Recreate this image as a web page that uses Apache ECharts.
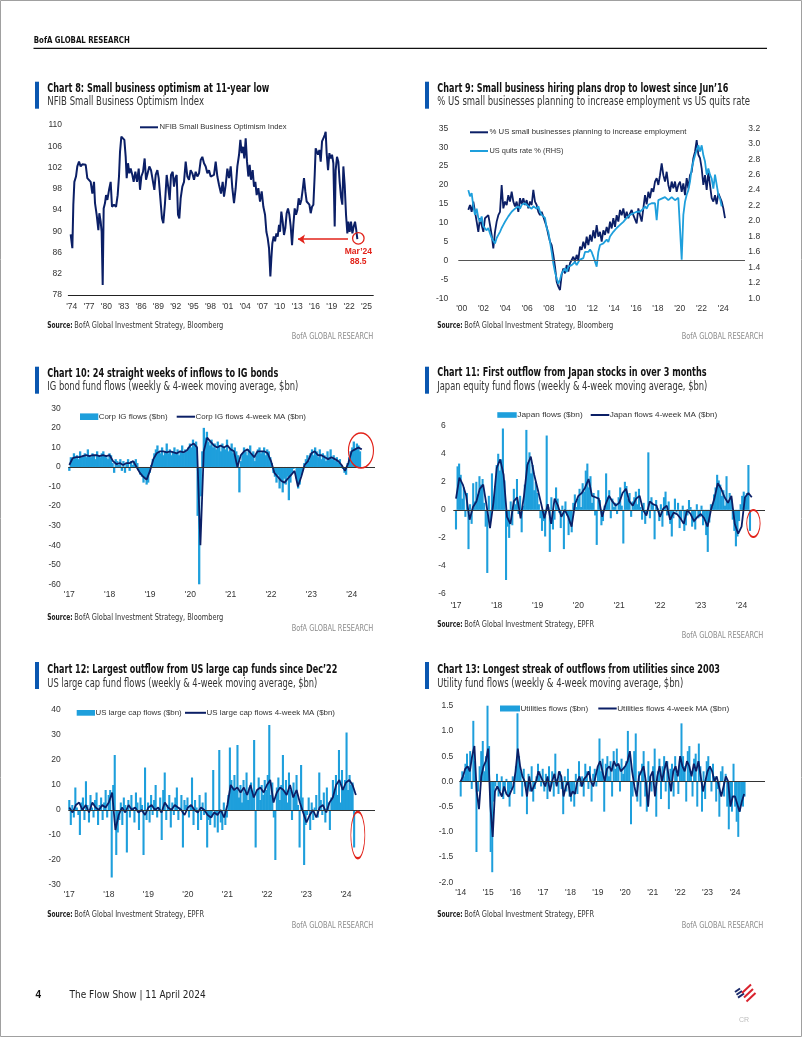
<!DOCTYPE html>
<html><head><meta charset="utf-8">
<script src="https://cdn.jsdelivr.net/npm/echarts@6/dist/echarts.min.js"></script>
<style>html,body{margin:0;padding:0;background:#fff}#c{width:802px;height:1037px}</style>
</head><body><div id="c"></div><script>
// ================= DATA =================
// Chart 8: NFIB Small Business Optimism Index (date in years, value)
const nfibDates = [1973.82,1974.11,1974.28,1974.46,1974.74,1974.97,1975.26,1975.55,1975.84,1976.13,1976.42,1976.70,1976.99,1977.28,1977.57,1977.86,1978.03,1978.32,1978.61,1978.78,1979.01,1979.18,1979.36,1979.53,1979.76,1979.94,1980.17,1980.46,1980.74,1980.97,1981.32,1981.67,1981.95,1982.18,1982.36,1982.59,1982.82,1983.11,1983.34,1983.51,1983.74,1983.97,1984.20,1984.49,1984.72,1985.01,1985.30,1985.59,1985.82,1986.05,1986.34,1986.62,1986.86,1987.14,1987.43,1987.72,1988.01,1988.30,1988.53,1988.82,1989.05,1989.39,1989.62,1989.85,1990.14,1990.43,1990.72,1990.95,1991.18,1991.47,1991.70,1991.93,1992.16,1992.39,1992.62,1992.85,1993.14,1993.43,1993.72,1994.01,1994.29,1994.58,1994.87,1995.16,1995.45,1995.74,1996.03,1996.32,1996.60,1996.89,1997.18,1997.47,1997.76,1998.04,1998.33,1998.62,1998.91,1999.20,1999.49,
1999.83,2000.12,2000.35,2000.64,2000.93,2001.22,2001.51,2001.79,2002.08,2002.37,2002.66,2002.95,2003.18,2003.41,2003.64,2003.87,2004.10,2004.33,2004.56,2004.79,2005.02,2005.31,2005.54,2005.77,2006.00,2006.29,2006.58,2006.87,2007.16,2007.45,2007.68,2007.91,2008.14,2008.37,2008.54,2008.71,2008.95,2009.18,2009.41,2009.64,2009.87,2010.04,2010.27,2010.50,2010.73,2010.96,2011.19,2011.42,2011.66,2011.89,2012.12,2012.35,2012.58,2012.81,2013.04,2013.27,2013.50,2013.73,2013.96,2014.19,2014.42,2014.65,2014.88,2015.12,2015.35,2015.58,2015.81,2016.04,2016.21,2016.38,2016.62,2016.85,2017.08,2017.31,2017.54,2017.77,2017.94,2018.11,2018.35,2018.58,2018.81,2019.04,2019.27,2019.50,2019.67,2019.90,2020.13,2020.36,2020.59,2020.82,2021.00,2021.23,2021.46,2021.69,2021.86,2022.09,2022.32,2022.56,2022.79,2023.02,2023.19,2023.42];
const nfibValues = [89.4,86.8,95.0,99.3,100.3,102.2,103.1,102.2,102.6,102.8,102.5,100.0,100.3,99.3,97.1,99.3,95.3,93.1,90.2,93.4,91.8,89.9,79.9,94.3,95.3,96.8,95.9,97.8,99.3,94.6,95.0,94.6,96.8,100.3,105.0,107.8,107.5,107.2,104.0,100.0,102.8,100.9,101.8,100.6,99.3,101.2,99.3,101.8,97.8,100.3,101.2,103.7,99.7,100.9,102.2,101.5,101.8,97.8,100.6,101.5,100.0,99.7,92.4,91.5,95.3,100.6,98.1,95.9,100.6,101.2,98.4,100.0,100.6,93.1,92.4,96.2,98.4,99.3,103.1,100.3,99.7,101.5,100.9,99.7,101.2,100.3,100.9,103.4,104.0,102.8,102.2,100.9,101.5,100.3,100.0,100.6,103.1,100.3,98.7,
97.1,99.3,96.5,98.7,101.8,100.0,102.2,98.1,95.3,98.1,102.2,104.4,107.2,104.7,105.9,103.7,107.5,103.1,100.3,102.5,99.7,101.5,98.4,99.3,96.8,98.1,95.6,97.5,94.6,93.1,89.9,88.7,86.8,81.5,84.9,87.7,89.0,88.1,89.6,89.0,91.2,89.9,93.7,91.8,89.3,90.6,93.4,94.3,93.1,90.9,87.4,91.2,94.3,93.1,94.0,96.2,95.0,95.9,97.8,100.0,97.5,95.6,95.9,95.0,93.4,94.6,95.0,100.6,105.6,105.9,104.4,105.3,103.1,106.9,107.5,108.1,108.7,104.7,101.5,104.7,103.7,104.4,102.8,90.9,101.5,104.0,103.1,99.3,96.5,95.0,102.2,98.7,93.1,89.6,91.8,89.9,91.8,89.6,90.9,91.8,90.6,88.5];
const nfibTicks = [1974,1977,1980,1983,1986,1989,1992,1995,1998,2001,2004,2007,2010,2013,2016,2019,2022,2025];

// Chart 9: samples every ~8 weeks starting 2000.61
const ch9Start = 2000.61, ch9StepYears = 0.1529;
const hiringPlans = [13.4,14.7,12.9,15.6,16.0,10.3,7.6,11.2,9.4,7.6, 11.2,10.7,12.0,9.4,6.8,3.2,7.6,10.3,12.0,12.9, 20.0,13.8,15.6,14.7,17.3,15.6,18.2,15.6,14.3,15.6, 12.9,16.5,14.9,16.5,14.7,16.0,13.8,15.6,14.7,18.7, 15.6,14.7,12.9,12.0,12.9,11.6,12.0,8.9,6.8,5.0, 4.1,1.5,-1.6,-5.6,-6.9,-7.8,-3.8,-2.1,-3.4,-1.2, -2.9,-0.7,-0.3,1.0,-0.3,1.5,0.1,3.7,2.8,5.0, 3.2,6.3,4.1,6.8,5.0,8.0,5.9,9.4,6.3,7.6, 5.0,8.0,6.8,8.9,7.2,10.3,8.5,11.2,8.9,12.0, 10.3,13.4,12.0,13.8,11.2,12.9,11.2,12.5,13.4,12.0, 12.0,9.8,13.8,12.0,10.3,13.8,17.3,14.9,18.2,16.5, 19.1,18.2,20.9,21.8,20.0,22.6,25.7,22.6,20.9,23.5, 20.0,18.2,20.9,19.1,20.9,18.2,20.0,20.9,18.2,20.4, 17.3,21.8,19.1,22.6,23.5,27.1,28.8,31.9,28.0,27.1, 24.4,20.0,22.6,18.7,23.5,20.0,16.5,15.6,17.3,14.9, 17.8,17.3,15.6,13.8,11.2];
const quitsRate = [2.40,2.32,2.36,2.19,2.08,2.16,2.04,1.99,2.06,1.93, 1.95,1.88,1.91,1.84,1.78,1.76,1.71,1.78,1.82,1.86, 1.91,1.95,1.99,1.97,2.06,2.08,2.12,2.10,2.16,2.14, 2.19,2.16,2.21,2.19,2.23,2.21,2.19,2.21,2.16,2.19, 2.21,2.16,2.19,2.12,2.08,2.10,2.04,1.91,1.86,1.73, 1.60,1.45,1.34,1.26,1.19,1.24,1.32,1.30,1.39,1.34, 1.41,1.39,1.43,1.41,1.47,1.43,1.47,1.50,1.50,1.52, 1.60,1.58,1.60,1.63,1.60,1.54,1.56,1.41,1.60,1.69, 1.67,1.71,1.73,1.76,1.73,1.80,1.82,1.86,1.86,1.91, 1.93,1.95,1.97,1.99,2.01,2.04,2.06,2.08,2.06,2.10, 2.08,2.12,2.10,2.12,2.14,2.16,2.19,2.16,2.21,2.19, 2.23,2.21,2.23,2.01,2.27,2.25,2.29,2.27,2.31,2.29, 2.27,2.29,2.31,2.29,2.27,2.29,2.30,2.28,1.50,2.08, 2.25,2.34,2.40,2.51,2.68,2.77,2.85,2.92,2.98,2.90, 2.98,2.85,2.77,2.60,2.68,2.60,2.55,2.42,2.60,2.47, 2.34,2.29,2.19];
const ch9Ticks = [2000,2002,2004,2006,2008,2010,2012,2014,2016,2018,2020,2022,2024];

// Flow charts: bars every 2 weeks from Jan 2017, MA monthly
const flowStart = 2017.0, flowStepDays = 14;
const igFlows = [-2,5,4,7,5,6,4,8,5,6,7,5,9,6,5,7,6,4,8,6,5,7,8,6,5,4,
 7,6,2,-3,4,3,1,4,-2,3,-3,2,4,-2,3,1,3,4,2,-2,-4,-5,-8,-6,-9,-8,
 -3,1,4,7,9,11,8,7,10,6,8,12,7,9,6,8,10,7,9,6,8,11,7,9,8,10,
 12,10,14,11,13,-25,-60,-15,8,20,15,18,13,11,14,10,12,9,13,11,8,12,10,9,14,8,
 9,12,7,10,8,6,-13,3,7,10,8,6,9,11,7,8,3,6,9,10,7,8,10,6,9,8,
 5,2,-3,-5,-8,-4,-11,-7,-13,-6,-9,-5,-17,-8,-3,-1,0,-6,-11,-9,-4,-2,2,4,6,3,
 7,9,6,10,8,5,9,4,7,6,3,8,5,9,4,6,3,5,2,4,1,-1,-3,-4,2,5,
 8,10,13,9,12,11,8];
const igMA = [1,4.5,5,5,5.5,6,5.5,6,6,5.5,6,5.5, 6,3,1.5,2,1,2,2,3,0,-3,-5,-6.5, -2,4,7,8,8,7.5,8,7.5,7,8,7.5,8.5,
 11,12,10,-40,8,15,13,11,10,11,10,11, 9,8,0,6,8,9,7,5,8,8,8,7, 3,-3,-5,-7,-8,-6,-4,-2,-10,-5,1,3, 7,8,6,6,5,4,5,4,3,1,-2,2, 8,9,10,9];
const japanFlows = [-1.4,3.1,3.3,2.5,0.8,1.6,-0.5,1.2,-2.8,0.4,-1.0,1.9,0.6,2.0,1.1,2.4,1.8,2.2,0.5,-1.2,-4.5,1.0,-0.8,2.6,0.9,1.7,
 3.2,4.0,2.8,3.6,5.8,2.1,-5.0,-1.2,-2.0,0.6,-1.1,1.5,0.4,2.2,-0.3,1.0,-1.6,0.3,1.8,5.7,3.4,4.1,2.6,3.2,1.4,2.0,
 1.2,0.4,-0.6,-1.5,-0.8,-1.9,5.3,0.2,-3.0,0.9,-1.4,-0.7,1.6,0.8,-0.2,-1.3,0.3,-2.8,0.6,-0.4,-1.8,-1.0,-1.6,0.5,1.1,0.2,
 0.8,1.5,0.2,1.9,1.3,2.8,3.3,1.6,2.4,0.5,1.2,-0.4,-2.5,1.4,0.7,-1.1,-0.8,0.3,2.6,0.9,1.4,-0.6,0.8,0.2,0.5,-0.3,
 0.9,1.6,0.3,-2.4,2.0,1.7,0.8,1.2,-0.5,0.6,0.9,1.3,0.4,1.5,0.2,-0.7,0.5,-1.0,-0.3,4.1,-0.6,0.9,0.4,-2.1,0.7,0.1,
 -0.8,0.4,-1.2,0.9,1.3,-0.4,0.6,-1.0,-1.9,-0.6,0.8,-0.2,0.5,-1.3,-0.7,0.3,-1.5,-1.1,-0.4,0.7,0.2,-1.2,-0.9,-1.4,0.4,-0.6,
 -0.5,0.3,-1.1,-0.6,-1.8,-3.0,-0.9,0.4,0.2,1.1,1.6,2.5,2.1,1.8,1.0,1.4,0.3,2.4,0.6,1.2,0.8,-0.7,-1.5,-2.6,-1.9,-0.8,
 0.4,1.0,1.3,0.9,1.2,3.2,-1.5];
const japanMA = [0.8,2.3,1.8,1.0,-0.7,0.2,0.6,1.5,1.8,0.3,-1.3,0.5, 3.0,3.6,2.5,-0.5,-1.0,0.6,0.9,-0.6,1.0,3.2,3.8,2.5,
 1.5,0.5,-0.6,0.4,-1.0,0.8,0.3,-0.5,0.0,-0.5,-1.2,0.4, 1.0,1.2,1.6,2.2,1.0,0.9,0.8,-0.5,0.4,1.0,0.6,0.3,
 0.5,1.2,1.5,0.6,0.3,0.8,1.0,0.0,-0.4,0.6,0.4,0.3, -0.5,0.1,0.3,-0.7,-0.2,-0.3,-0.6,-1.0,0.0,-0.3,-0.8,-0.5,
 -0.3,-0.6,-1.2,0.0,0.8,1.9,1.5,0.9,0.5,1.0,-1.0,-1.7, -1.2,0.9,1.2,0.9];
const usLargeCapFlows = [4,-6,2,-3,9,1,-2,-10,3,5,-4,11.5,2,-5,6,1,-3,4,7,-6,2,5,-4,3,8,-3,
 6,8,-27,10,22,-18,-9,-4,3,-6,5,2,-17,4,-3,6,1,-5,7,3,-8,5,2,-18,17,-4,
 3,-5,6,-2,4,10,-3,1,5,-12,8,15,-4,2,6,-7,3,-2,5,9,-4,1,6,-15,4,2,
 5,-3,2,13,-6,4,1,-8,6,-4,3,-2,7,-15,-4,-6,-3,16,-7,-2,-9,24,-5,-8,3,-6,
 -3,6,25,12,9,14,8,26,5,10,3,12,7,15,4,9,11,6,28,-15,8,13,4,10,6,12,
 8,14,34,6,11,-3,-20,9,13,4,10,22,7,12,3,15,8,-4,11,6,14,2,-15,18,5,-22,
 -6,-2,5,-8,3,-4,1,6,-3,15,4,-2,7,-5,9,3,-8,5,12,8,14,6,24,3,16,9,
 12,31,8,14,10,11,-15];
const usLargeCapMA = [1,-1,2,3,0,2,-1,3,1,0,2,1, 3,7,-8,-2,1,-1,2,0,1,-1,0,-2, 1,2,0,1,-1,3,1,0,2,1,0,-2,
 1,2,0,-1,1,0,-2,-3,-1,-2,0,-3, 2,10,8,9,7,9,6,10,5,8,9,7, 10,12,3,7,9,8,6,10,5,8,3,-1,
 -5,-2,0,-3,1,2,-1,3,5,10,12,8, 11,12,10,6];
const flowTicks = [2017,2018,2019,2020,2021,2022,2023,2024];

// Utilities: bars every 3 weeks from Jan 2014, MA monthly
const utilStart = 2014.0, utilStepDays = 21;
const utilFlows = [-0.3,0.2,0.1,0.35,0.55,0.3,0.6,-0.15,1.2,0.4,-1.4,-0.2,0.3,0.6,0.8,0.2,0.5,
 1.5,0.7,-1.4,-1.8,-0.4,-0.1,0.15,-0.3,-0.2,0.1,-0.35,-0.2,0.05,-0.3,-0.5,-0.15,0.1,-0.25,
 0.3,1.35,0.5,0.2,-0.3,0.25,-0.1,-0.65,0.15,-0.2,0.3,-0.4,-0.15,0.1,0.35,0.2,-0.1,
 0.25,-0.2,0.15,-0.35,0.3,-0.1,0.2,-0.3,0.55,0.05,-0.25,0.2,-0.15,-0.65,0.1,-0.2,0.25,-0.3,
 -0.4,-0.2,-0.5,0.15,-0.25,0.4,-0.1,0.1,-0.3,0.35,0.2,-0.15,0.3,-0.4,0.15,0.25,-0.1,
 0.3,0.85,0.2,0.45,-0.6,0.35,0.5,0.1,0.4,-0.3,0.6,0.25,0.65,0.3,-0.2,0.45,0.15,0.3,
 0.4,1.0,0.5,-0.85,-0.3,0.6,0.95,-0.4,0.2,-0.5,0.35,0.6,-0.3,-0.6,0.4,0.1,-0.2,
 0.3,0.65,-0.7,0.2,0.45,-0.35,0.3,0.5,-0.2,0.4,-0.55,0.25,0.35,-0.3,0.5,0.15,-0.25,0.4,
 1.15,0.5,0.3,-0.4,0.6,0.7,0.2,-0.3,0.45,0.55,-0.5,0.75,0.3,-0.6,0.2,-0.35,0.4,
 0.5,0.3,-0.2,0.35,0.1,-0.4,-0.15,-0.7,0.2,0.3,-0.3,0.15,-0.5,-0.95,-0.4,-0.6,0.35,
 -0.5,-0.8,-1.1,-0.6,-0.45,-0.5,-0.3];
const utilMA = [0.0,0.1,0.25,0.3,0.2,0.5,0.7,-0.2,-0.55,0.1,0.3,0.4, 0.65,-0.5,-1.1,-0.2,-0.1,-0.2,-0.3,-0.1,-0.25,-0.3,-0.2,-0.1,
 0.2,0.65,0.3,0.1,0.0,-0.3,0.1,-0.2,-0.1,0.0,0.2,0.1, 0.0,-0.1,0.1,-0.2,0.0,0.15,-0.1,0.2,0.1,-0.3,-0.1,0.0,
 -0.3,-0.2,-0.25,0.0,0.1,-0.1,0.05,0.1,0.2,0.0,-0.1,0.1, 0.3,0.4,0.2,0.0,0.25,0.3,0.2,0.4,0.3,0.35,0.2,0.25,
 0.3,0.4,0.6,0.2,-0.1,-0.3,0.1,0.2,0.3,0.0,-0.5,0.1, 0.2,-0.3,0.1,0.3,0.0,0.2,0.4,0.1,-0.2,0.2,0.3,0.1,
 0.5,0.3,0.2,0.4,0.3,0.1,0.35,0.2,0.4,0.1,-0.2,0.0, 0.2,0.3,0.2,0.0,0.1,-0.1,-0.3,-0.1,0.1,0.0,-0.5,-0.3,
 -0.3,-0.45,-0.6,-0.4,-0.25];
const utilTicks = [2014,2015,2016,2017,2018,2019,2020,2021,2022,2023,2024];

// ================= STYLE / LAYOUT =================
const NAVY = '#0b1f66', LIGHT = '#1e9fdc', RED = '#e2231a', BAR = '#0a57b0';
const NARROW = '"Liberation Sans Narrow","DejaVu Sans Condensed","Liberation Sans",sans-serif';
const SANS = '"Liberation Sans","DejaVu Sans",sans-serif';
const cv = document.createElement('canvas').getContext('2d');
function txt(str, x, y, o) {
  const font = (o.weight || 'normal') + ' ' + o.size + 'px ' + (o.family || NARROW);
  cv.font = font;
  const w = cv.measureText(str).width;
  return {type: 'text', x: x, y: y, scaleX: o.width ? o.width / w : 1, silent: true, z: 10,
    style: {text: str, font: font, fill: o.color || '#222', textAlign: o.align || 'left', verticalAlign: 'middle', textVerticalAlign: 'middle'}};
}
const G = [];
G.push({type: 'rect', shape: {x: 0.5, y: 0.5, width: 801, height: 1036}, style: {fill: 'none', stroke: '#a0a0a0', lineWidth: 1}, silent: true});
G.push(txt('BofA GLOBAL RESEARCH', 33.8, 41, {size: 8.5, weight: 'bold', width: 96, color: '#111'}));
G.push({type: 'line', shape: {x1: 33.5, y1: 48.3, x2: 767, y2: 48.3}, style: {stroke: '#111', lineWidth: 1.3}, silent: true});

const panels = [
  {bx: 35, by: 81.7, tx: 47.3, title: 'Chart 8: Small business optimism at 11-year low', tY: 89, tW: 222,
   sub: 'NFIB Small Business Optimism Index', sY: 102.3, sW: 156.7, src: 'BofA Global Investment Strategy, Bloomberg', srcW: 149, srcY: 325.7, brY: 336.7, brR: 373.3},
  {bx: 425, by: 81.7, tx: 437.3, title: 'Chart 9: Small business hiring plans drop to lowest since Jun\u201916', tY: 89, tW: 291,
   sub: '% US small businesses planning to increase employment vs US quits rate', sY: 102.3, sW: 312.7, src: 'BofA Global Investment Strategy, Bloomberg', srcW: 149, srcY: 325.7, brY: 336.7, brR: 763.3},
  {bx: 35, by: 366.7, tx: 47.3, title: 'Chart 10: 24 straight weeks of inflows to IG bonds', tY: 373.3, tW: 231,
   sub: 'IG bond fund flows (weekly & 4-week moving average, $bn)', sY: 387.3, sW: 251, src: 'BofA Global Investment Strategy, Bloomberg', srcW: 149, srcY: 617.3, brY: 628.3, brR: 373.3},
  {bx: 425, by: 366.7, tx: 437.3, title: 'Chart 11: First outflow from Japan stocks in over 3 months', tY: 372.7, tW: 269.3,
   sub: 'Japan equity fund flows (weekly & 4-week moving average, $bn)', sY: 386.7, sW: 270, src: 'BofA Global Investment Strategy, EPFR', srcW: 129.7, srcY: 624.3, brY: 636, brR: 763.3},
  {bx: 35, by: 662, tx: 47.3, title: 'Chart 12: Largest outflow from US large cap funds since Dec\u201922', tY: 670, tW: 290,
   sub: 'US large cap fund flows (weekly & 4-week moving average, $bn)', sY: 684.3, sW: 270, src: 'BofA Global Investment Strategy, EPFR', srcW: 129.7, srcY: 914.3, brY: 925.7, brR: 373.3},
  {bx: 425, by: 662, tx: 437.3, title: 'Chart 13: Longest streak of outflows from utilities since 2003', tY: 670, tW: 282.7,
   sub: 'Utility fund flows (weekly & 4-week moving average, $bn)', sY: 684.3, sW: 246, src: 'BofA Global Investment Strategy, EPFR', srcW: 129.7, srcY: 914.3, brY: 925.7, brR: 763.3}
];
panels.forEach(p => {
  G.push({type: 'rect', shape: {x: p.bx, y: p.by, width: 4, height: 27}, style: {fill: BAR}, silent: true});
  G.push(txt(p.title, p.tx, p.tY, {size: 13, weight: 'bold', width: p.tW, color: '#111'}));
  G.push(txt(p.sub, p.tx, p.sY, {size: 12, width: p.sW, color: '#333'}));
  G.push(txt('Source:', p.tx, p.srcY, {size: 8.5, weight: 'bold', width: 25.3, color: '#222'}));
  G.push(txt(p.src, p.tx + 27, p.srcY, {size: 8.5, width: p.srcW, color: '#333'}));
  G.push(txt('BofA GLOBAL RESEARCH', p.brR, p.brY, {size: 8.5, width: 81.6, color: '#8a8a8a', align: 'right'}));
});

function legLine(x1, x2, y, color) { G.push({type: 'line', shape: {x1, y1: y, x2, y2: y}, style: {stroke: color, lineWidth: 2}, silent: true}); }
function legBox(x, y, w, h) { G.push({type: 'rect', shape: {x, y, width: w, height: h}, style: {fill: LIGHT}, silent: true}); }
function legTxt(s, x, y, w) { G.push(txt(s, x, y, {size: 7.5, family: SANS, width: w, color: '#333'})); }
legLine(140, 158, 127.3, NAVY); legTxt('NFIB Small Business Optimism Index', 159.5, 127.3, 127);
legLine(470, 488, 132.3, NAVY); legTxt('% US small businesses planning to increase employment', 489.5, 132.3, 197);
legLine(470, 488, 151, LIGHT); legTxt('US quits rate % (RHS)', 489.5, 151, 74);
legBox(80, 413.4, 18.3, 6.6); legTxt('Corp IG flows ($bn)', 98.7, 416.7, 69);
legLine(176.7, 195, 416.7, NAVY); legTxt('Corp IG flows 4-week MA ($bn)', 195.5, 416.7, 110.5);
legBox(497.3, 412.2, 19.4, 5.6); legTxt('Japan flows ($bn)', 517.3, 415, 65.4);
legLine(590.7, 609.3, 415, NAVY); legTxt('Japan flows 4-week MA ($bn)', 609.7, 415, 107.6);
legBox(76.7, 710, 18.3, 5.7); legTxt('US large cap flows ($bn)', 95.5, 712.8, 86.2);
legLine(185, 206, 712.8, NAVY); legTxt('US large cap flows 4-week MA ($bn)', 206.5, 712.8, 128.5);
legBox(500, 705.5, 20, 6); legTxt('Utilities flows ($bn)', 520.5, 708.5, 67.8);
legLine(598.3, 616.7, 708.5, NAVY); legTxt('Utilities flows 4-week MA ($bn)', 617.2, 708.5, 112);

// footer
G.push(txt('4', 35.5, 995, {size: 10, weight: 'bold', family: SANS, color: '#111'}));
G.push(txt('The Flow Show | 11 April 2024', 69.6, 995, {size: 10.5, width: 136, color: '#222'}));
[[735,992,740,988.5],[736.5,994.8,742,991],[738,997.6,744,993.5]].forEach(s =>
  G.push({type: 'line', shape: {x1: s[0], y1: s[1], x2: s[2], y2: s[3]}, style: {stroke: '#1b2a6b', lineWidth: 2}, silent: true}));
[[742,993,751,984.5],[744,997.5,753,989],[746.5,1001.5,755.5,993]].forEach(s =>
  G.push({type: 'line', shape: {x1: s[0], y1: s[1], x2: s[2], y2: s[3]}, style: {stroke: '#d9232e', lineWidth: 2}, silent: true}));
G.push(txt('CR', 739, 1020, {size: 7, family: SANS, color: '#bdbdbd'}));

// ================= AXES =================
const grids = [
  {left: 68.3, top: 125, width: 305, height: 170},
  {left: 458.3, top: 128.3, width: 286.7, height: 170},
  {left: 68.3, top: 408.3, width: 306.7, height: 176},
  {left: 453.3, top: 425.7, width: 311.7, height: 168.3},
  {left: 68.3, top: 710, width: 306.7, height: 175},
  {left: 459.3, top: 705.7, width: 305.7, height: 176.6}
].map(g => Object.assign({containLabel: false, outerBoundsMode: 'none'}, g));

function xAx(gi, min, max, ticks, margin, showLine) {
  return {type: 'value', gridIndex: gi, min, max,
    axisLine: {show: !!showLine, onZero: false, lineStyle: {color: '#222', width: 1}},
    axisTick: {show: false}, splitLine: {show: false},
    axisLabel: {customValues: ticks, formatter: v => "'" + String(Math.round(v)).slice(2), color: '#333', fontSize: 8.5, fontFamily: SANS, margin}};
}
function yAx(gi, min, max, interval, margin, dec, pos) {
  return {type: 'value', gridIndex: gi, min, max, interval, position: pos || 'left',
    axisLine: {show: false}, axisTick: {show: false}, splitLine: {show: false},
    axisLabel: {color: '#333', fontSize: 8.5, fontFamily: SANS, margin, formatter: v => dec ? v.toFixed(dec) : String(Math.round(v))}};
}
const xAxis = [
  xAx(0, 1973.41, 2026.18, nfibTicks, 7, true),
  xAx(1, 1999.69, 2025.99, ch9Ticks, 5.5, false),
  xAx(2, 2016.975, 2024.578, flowTicks, 6, false),
  xAx(3, 2016.934, 2024.574, flowTicks, 7.5, false),
  xAx(4, 2016.975, 2024.734, flowTicks, 5.5, false),
  xAx(5, 2013.949, 2025.094, utilTicks, 5.5, false)
];
const yAxis = [
  yAx(0, 78, 110, 4, 6.3, 0),
  yAx(1, -10, 35, 5, 10, 0),
  yAx(1, 1.0, 3.2, 0.2, 3.3, 1, 'right'),
  yAx(2, -60, 30, 10, 7.6, 0),
  yAx(3, -6, 6, 2, 7.6, 0),
  yAx(4, -30, 40, 10, 7.6, 0),
  yAx(5, -2.0, 1.5, 0.5, 6, 1)
];

const stepped = (start, days, arr) => arr.map((v, i) => [start + i * days / 365.25, v]);
const monthly = (start, arr) => arr.map((v, i) => [start + i / 12, v]);
const zeroLine = (color) => ({silent: true, symbol: 'none', label: {show: false}, lineStyle: {color: color, width: 1, type: 'solid'}, data: [{yAxis: 0}]});
const ellipse = (coord, w, h) => ({silent: true, label: {show: false}, data: [{coord, symbol: 'circle', symbolSize: [w, h], itemStyle: {color: 'rgba(0,0,0,0)', borderColor: RED, borderWidth: 1.3}}]});
const lineS = (xi, yi, data, color, width, extra) => Object.assign({type: 'line', xAxisIndex: xi, yAxisIndex: yi, data, showSymbol: false, symbol: 'none', lineStyle: {color, width}, itemStyle: {color}, z: 3}, extra || {});
const barS = (xi, yi, data, w, extra) => Object.assign({type: 'bar', xAxisIndex: xi, yAxisIndex: yi, data, barWidth: w, itemStyle: {color: LIGHT}, z: 2}, extra || {});

const series = [
  lineS(0, 0, nfibDates.map((d, i) => [d, nfibValues[i]]), NAVY, 2, {
    markLine: {silent: true, symbol: ['none', 'arrow'], symbolSize: 7, label: {show: false}, lineStyle: {color: RED, width: 1.5, type: 'solid'},
      data: [[{coord: [2021.8, 88.5]}, {coord: [2013.15, 88.5]}]]},
    markPoint: {silent: true, data: [{coord: [2023.59, 88.67], symbol: 'circle', symbolSize: 11.5,
      itemStyle: {color: 'rgba(0,0,0,0)', borderColor: RED, borderWidth: 1.3},
      label: {show: true, position: 'bottom', distance: 2, formatter: "Mar\u201924\n88.5", color: RED, fontWeight: 'bold', fontSize: 8.5, lineHeight: 10, fontFamily: SANS}}]}
  }),
  lineS(1, 1, stepped(ch9Start, ch9StepYears * 365.25, hiringPlans), NAVY, 1.8, {markLine: zeroLine('#555')}),
  lineS(1, 2, stepped(ch9Start, ch9StepYears * 365.25, quitsRate), LIGHT, 1.8),
  barS(2, 3, stepped(flowStart, flowStepDays, igFlows), 2.3, {markPoint: ellipse([2024.23, 8.4], 25, 35)}),
  lineS(2, 3, monthly(flowStart, igMA), NAVY, 1.8, {markLine: zeroLine('#333')}),
  barS(3, 4, stepped(flowStart, flowStepDays, japanFlows), 2.1, {markPoint: ellipse([2024.29, -0.97], 13.4, 27)}),
  lineS(3, 4, monthly(flowStart, japanMA), NAVY, 1.8, {markLine: zeroLine('#333')}),
  barS(4, 5, stepped(flowStart, flowStepDays, usLargeCapFlows), 2.1, {markPoint: ellipse([2024.30, -10], 14, 46.6)}),
  lineS(4, 5, monthly(flowStart, usLargeCapMA), NAVY, 1.8, {markLine: zeroLine('#333')}),
  barS(5, 6, stepped(utilStart, utilStepDays, utilFlows), 2.0),
  lineS(5, 6, monthly(utilStart, utilMA), NAVY, 1.8, {markLine: zeroLine('#333')})
];

const chart = echarts.init(document.getElementById('c'), null, {renderer: 'canvas'});
chart.setOption({animation: false, backgroundColor: '#fff', grid: grids, xAxis, yAxis, series, graphic: {elements: G}});
</script></body></html>
